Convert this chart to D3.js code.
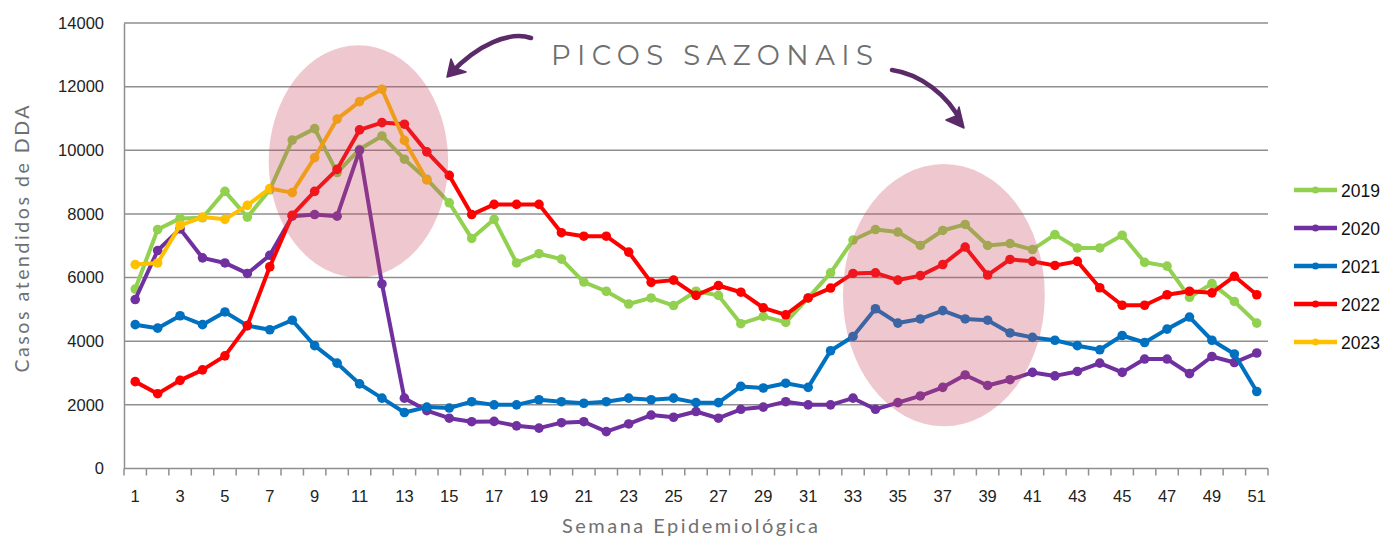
<!DOCTYPE html>
<html><head><meta charset="utf-8">
<script src="https://cdn.jsdelivr.net/npm/d3@7"></script>
<style>
html,body{margin:0;padding:0;background:#fff;}
svg{display:block;}
</style></head>
<body>
<svg id="chart" width="1385" height="538"></svg>
<script>
// ---- data ----
const weeks = d3.range(1, 52);
const yTicks = [0, 2000, 4000, 6000, 8000, 10000, 12000, 14000];
const xTickLabels = d3.range(1, 52, 2);
const seriesNames = ["2019", "2020", "2021", "2022", "2023"];
const seriesColors = ["#92D050", "#7030A0", "#0070C0", "#FF0000", "#FFC000"];

const s2019 = [5640,7510,7860,7880,8710,7900,8760,10320,10680,9300,10030,10450,9720,9090,8350,7230,7830,6460,6750,6580,
  5860,5570,5170,5360,5120,5570,5440,4550,4780,4590,5360,6150,7180,7510,7430,7010,7480,7670,7010,7070,
  6880,7350,6930,6930,7330,6480,6360,5380,5810,5250,4570];
const s2020 = [5310,6850,7530,6620,6460,6130,6700,7930,7980,7930,10000,5800,2210,1820,1580,1470,1480,1340,1270,1440,
  1470,1160,1400,1680,1610,1790,1580,1860,1930,2100,2000,2000,2210,1860,2070,2280,2550,2940,2610,2790,
  3020,2910,3050,3310,3020,3440,3440,2980,3520,3330,3630];
const s2021 = [4520,4410,4800,4520,4920,4490,4360,4660,3860,3310,2660,2210,1760,1930,1900,2100,2000,2000,2160,2100,
  2050,2100,2210,2160,2210,2070,2070,2580,2530,2680,2550,3700,4150,5020,4570,4700,4960,4700,4660,4260,
  4120,4030,3860,3730,4180,3960,4380,4760,4030,3600,2420];
const s2022 = [2730,2350,2770,3100,3540,4490,6340,7960,8710,9400,10640,10870,10820,9950,9210,7980,8300,8300,8300,7410,
  7300,7300,6800,5850,5920,5440,5750,5540,5050,4830,5360,5670,6130,6150,5920,6060,6410,6960,6080,6570,
  6510,6380,6510,5680,5130,5130,5460,5570,5520,6040,5460];
const s2023 = [6410,6460,7640,7900,7830,8270,8800,8670,9770,10980,11530,11920,10310,9070];
const seriesValues = [s2019, s2020, s2021, s2022, s2023];

// highlighted seasonal peaks (week centre, value centre, half-width in weeks, half-height in cases)
const peakAreas = [
  {week: 10.95, value: 9650, halfWeeks: 4.0, halfCases: 3650},
  {week: 37.05, value: 5450, halfWeeks: 4.5, halfCases: 4120}
];
const annotationText = "PICOS SAZONAIS";
const yTitle = "Casos atendidos de DDA";
const xTitle = "Semana Epidemiológica";

// ---- layout ----
const svg = d3.select("#chart");
const mLeft = 124, mRight = 1268, mTop = 23, mBottom = 468.5;

const x = d3.scaleBand().domain(weeks).range([mLeft, mRight]).paddingInner(0).paddingOuter(0);
const xc = w => x(w) + x.bandwidth() / 2;
const y = d3.scaleLinear().domain([0, 14000]).range([mBottom, mTop]);

// gridlines
svg.append("g").selectAll("line").data(yTicks.filter(d => d > 0)).join("line")
  .attr("x1", mLeft).attr("x2", mRight)
  .attr("y1", d => y(d)).attr("y2", d => y(d))
  .attr("stroke", "#8f8f8f").attr("stroke-width", 1.5);

// y axis
const yAxis = svg.append("g").attr("transform", `translate(${mLeft},0)`)
  .call(d3.axisLeft(y).tickValues(yTicks).tickSize(0).tickPadding(20).tickFormat(d3.format("d")));
yAxis.select(".domain").attr("stroke", "#8f8f8f").attr("stroke-width", 1.5);
yAxis.selectAll("text").attr("font-family", "Liberation Sans, Arial, sans-serif")
  .attr("font-size", 16.5).attr("fill", "#222");

// x axis: ticks at category boundaries
const xAxisG = svg.append("g").attr("transform", `translate(0,${mBottom})`);
xAxisG.append("line").attr("x1", mLeft).attr("x2", mRight).attr("y1", 0).attr("y2", 0)
  .attr("stroke", "#8f8f8f").attr("stroke-width", 1.5);
xAxisG.selectAll("line.tk").data(weeks.concat([52])).join("line").attr("class", "tk")
  .attr("x1", d => d <= 51 ? x(d) : mRight).attr("x2", d => d <= 51 ? x(d) : mRight)
  .attr("y1", 0).attr("y2", 7).attr("stroke", "#8f8f8f").attr("stroke-width", 1.5);
xAxisG.selectAll("text").data(xTickLabels).join("text")
  .attr("x", d => xc(d)).attr("y", 33.5).attr("text-anchor", "middle")
  .attr("font-family", "Liberation Sans, Arial, sans-serif").attr("font-size", 16.5).attr("fill", "#222")
  .text(d => d);

// series lines & markers
const line = d3.line().x((d, i) => xc(weeks[i])).y(d => y(d));
seriesValues.forEach((vals, si) => {
  const g = svg.append("g");
  g.append("path").datum(vals).attr("d", line).attr("fill", "none")
    .attr("stroke", seriesColors[si]).attr("stroke-width", 4).attr("stroke-linejoin", "round");
  g.selectAll("circle").data(vals).join("circle")
    .attr("cx", (d, i) => xc(weeks[i])).attr("cy", d => y(d)).attr("r", 4.8)
    .attr("fill", seriesColors[si]);
});

// highlight ellipses
const pxPerWeek = x.bandwidth();
svg.append("g").selectAll("ellipse").data(peakAreas).join("ellipse")
  .attr("cx", d => xc(1) + (d.week - 1) * pxPerWeek)
  .attr("cy", d => y(d.value))
  .attr("rx", d => d.halfWeeks * pxPerWeek)
  .attr("ry", d => y(0) - y(d.halfCases))
  .attr("fill", "#c9485f").attr("fill-opacity", 0.3);

// annotation text
svg.append("text").attr("x", 551).attr("y", 65)
  .attr("font-family", "Montserrat, 'Open Sans', sans-serif").attr("font-size", 27.5)
  .attr("fill", "#6f6f6f").attr("textLength", 322).attr("lengthAdjust", "spacing")
  .text(annotationText);

// arrows
const arrowCol = "#5b2a69";
svg.append("path").attr("d", "M531,38 C510,31 478,44 450,74")
  .attr("fill", "none").attr("stroke", arrowCol).attr("stroke-width", 4.5).attr("stroke-linecap", "round");
svg.append("path").attr("d", "M447,77 L451,59 L455,68 L466,72 Z").attr("fill", arrowCol)
  .attr("stroke", arrowCol).attr("stroke-width", 1.5).attr("stroke-linejoin", "round");
svg.append("path").attr("d", "M892,70 C920,74 948,95 961,122")
  .attr("fill", "none").attr("stroke", arrowCol).attr("stroke-width", 4.5).attr("stroke-linecap", "round");
svg.append("path").attr("d", "M964,128 L946,120 L956,116 L959,107 Z").attr("fill", arrowCol)
  .attr("stroke", arrowCol).attr("stroke-width", 1.5).attr("stroke-linejoin", "round");

// axis titles
svg.append("text").attr("transform", "translate(29,239) rotate(-90)").attr("text-anchor", "middle")
  .attr("font-family", "Lato, 'Open Sans', sans-serif").attr("font-size", 19.5).attr("fill", "#707070")
  .attr("textLength", 267).attr("lengthAdjust", "spacing")
  .text(yTitle);
svg.append("text").attr("x", 690).attr("y", 533).attr("text-anchor", "middle")
  .attr("font-family", "Lato, 'Open Sans', sans-serif").attr("font-size", 20).attr("fill", "#707070")
  .attr("textLength", 256).attr("lengthAdjust", "spacing")
  .text(xTitle);

// legend
const lg = svg.append("g");
seriesNames.forEach((n, i) => {
  const ly = 190 + i * 38;
  lg.append("line").attr("x1", 1294).attr("x2", 1337).attr("y1", ly).attr("y2", ly)
    .attr("stroke", seriesColors[i]).attr("stroke-width", 4.5);
  lg.append("circle").attr("cx", 1315.5).attr("cy", ly).attr("r", 3.5).attr("fill", seriesColors[i]);
  lg.append("text").attr("x", 1341).attr("y", ly + 6.5)
    .attr("font-family", "Liberation Sans, Arial, sans-serif").attr("font-size", 17.5).attr("fill", "#111")
    .text(n);
});
</script>
</body></html>
